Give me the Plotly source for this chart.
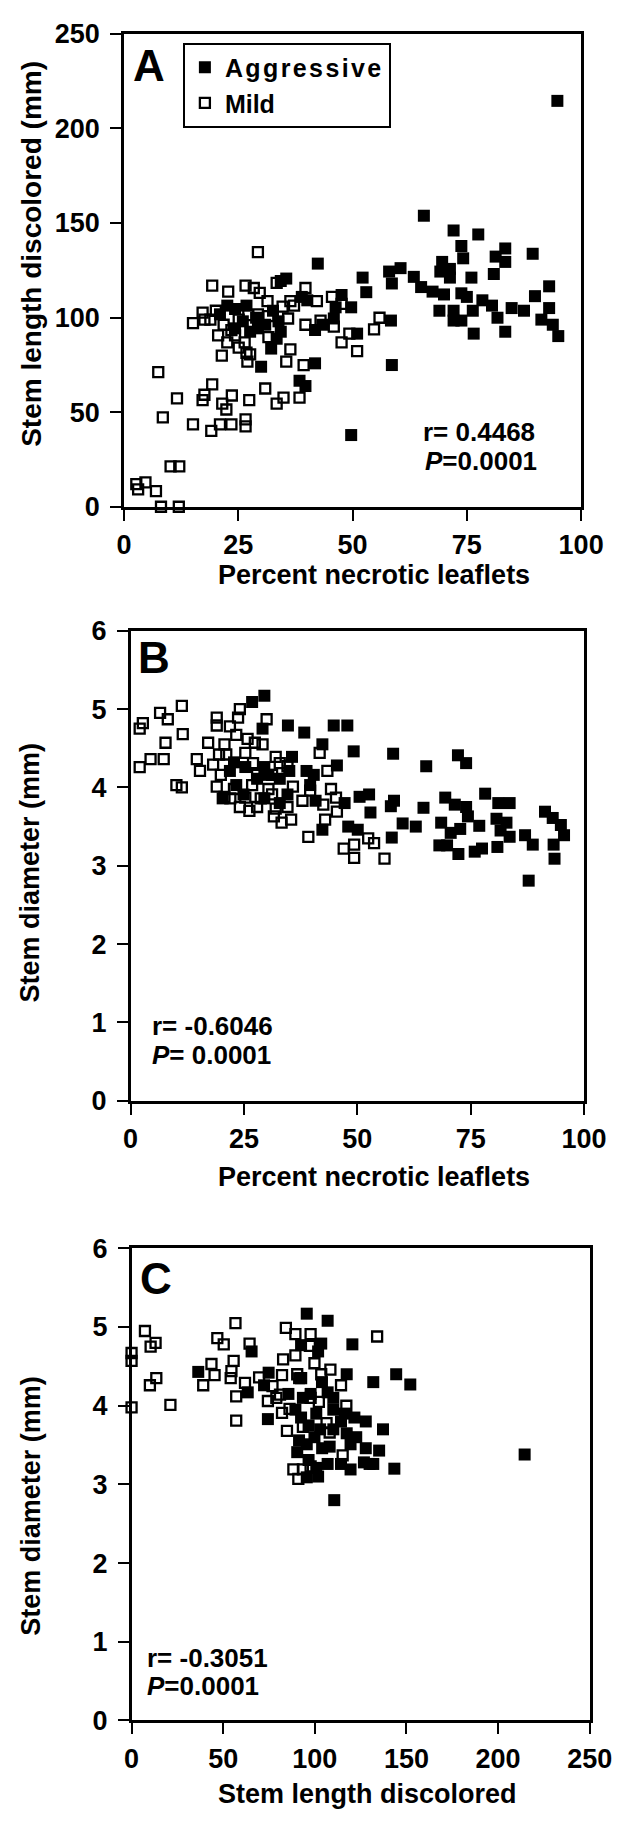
import plotly.graph_objects as go

W, H = 626, 1823

# ---------------- Panel A data: percent necrotic leaflets vs stem length discolored
a_agg_x = [94.8, 65.6, 72.1, 77.5, 89.4, 73.8, 83.4, 81.3, 83.4, 74.2, 69.6, 71.3, 80.9, 60.5, 58, 63.4,
           58.6, 65, 67.5, 70, 73.8, 76, 71.3, 69.2, 75, 78.4, 80.5, 84.8, 87.5, 69, 72.1, 73.8, 72.1, 76.3,
           76.5, 81.7, 83.4, 89.9, 93, 93, 91.3, 93.8, 95, 58.4, 58.6, 52.2, 53, 47.6, 46.3, 49.7, 45.9, 51,
           42.4, 38.9, 40.1, 41.8, 43.4, 41.8, 38.4, 39.7, 49.7, 30, 35.5, 34.3, 32.6, 33.8, 32.2, 34.3, 33.4,
           30.9, 27.6, 26.8, 24.3, 22.6, 21, 28.9, 26, 24.3, 29.3]
a_agg_y = [214.5, 153.8, 146, 143.9, 133.7, 137.8, 136.5, 132.2, 129.4, 131.3, 129.4, 125.7, 123, 126.1,
           124.3, 121.5, 118, 116.1, 113.7, 112.2, 112.8, 121.1, 121.1, 124.3, 110.9, 109.1, 106.3, 105,
           103.6, 103.6, 103.6, 98.4, 98.4, 103.6, 91.5, 99.9, 92.5, 111.3, 116.5, 105, 98.9, 96.2, 90.2,
           98.4, 74.9, 121.1, 113.4, 111.9, 105.4, 105.4, 99.5, 91.5, 128.5, 110.9, 109.1, 93.4, 96.2, 75.8,
           66.6, 63.8, 37.9, 74, 120.6, 119.3, 103.6, 98, 83.6, 92.5, 88.8, 96.2, 92.5, 106.3, 104.5, 106.3,
           101.7, 99.9, 98, 94.3, 94.3]
a_mild_x = [29.3, 19.3, 22.8, 26.6, 28.4, 29.7, 31.4, 33.4, 34.7, 36.4, 39.7, 42.2, 45.5, 47.6, 15.1, 17.2,
            17.6, 20.1, 18.9, 20.6, 21.8, 23.5, 22.6, 24.3, 25.1, 26.4, 26.8, 27.6, 27, 21.4, 25.1, 27.2, 29.3,
            31.6, 31.6, 35.9, 37.2, 36.4, 35.5, 39.3, 39.7, 43, 45.9, 47.6, 49.3, 51, 54.7, 55.9, 7.5, 8.5,
            11.6, 15.1, 17.2, 17.6, 19.3, 19.1, 21.5, 22.4, 23.6, 21, 23.5, 26.6, 26.6, 27.4, 30.9, 33.4, 34.9,
            38.4, 10.2, 12.1, 2.7, 3.1, 4.7, 7, 8.1, 12]
a_mild_y = [134.6, 116.9, 113.7, 116.9, 115.6, 113, 108.7, 118.3, 105.8, 108.7, 115.6, 108.7, 110.9, 107.2,
            97.1, 102.6, 98.9, 103.6, 98.9, 90.6, 96.2, 93.4, 86.9, 90.6, 84.1, 86.9, 81.4, 80.5, 76.7, 79.9,
            98.9, 101.3, 101.7, 100.8, 89.7, 99.5, 106.3, 83.2, 76.7, 74.9, 96.2, 98.4, 95.2, 86.9, 91.5, 82.3,
            93.7, 99.9, 71.2, 47.2, 57.3, 43.5, 56.4, 59.2, 64.7, 40.1, 54.5, 51.4, 58.8, 43.5, 43.5, 46.2,
            42.5, 56.4, 62.5, 54.5, 57.7, 57.7, 21.3, 21.3, 12, 9.2, 12.9, 8.3, 0, 0]

# ---------------- Panel B data: percent necrotic leaflets vs stem diameter
b_agg_x = [29.5, 26.8, 34.7, 44.8, 47.8, 38.3, 29.1, 42.3, 49.2, 57.9, 65.2, 72.2, 74, 45.5, 35.6, 35, 38.8,
           40.4, 22.8, 21.9, 25.3, 29.5, 30.4, 32.9, 27.9, 23.3, 39.6, 20.3, 24.9, 29.5, 32.9, 34.6, 40.8,
           47.2, 50.5, 52.6, 58.1, 57.4, 52.9, 60, 62.9, 64.6, 57.6, 42.3, 48, 50.1, 69.4, 71.5, 74, 68.5,
           74.4, 76.9, 78.2, 81.1, 83.6, 80.7, 82.9, 81.6, 83.6, 68.1, 69.8, 72.3, 75.9, 77.5, 80.9, 87,
           88.7, 91.4, 93.1, 94.9, 95.6, 93.3, 93.5, 87.8, 72.7, 70.6]
b_agg_y = [5.17, 5.09, 4.79, 4.79, 4.79, 4.70, 4.75, 4.55, 4.46, 4.43, 4.27, 4.41, 4.31, 4.28, 4.39, 4.21,
           4.21, 4.16, 4.32, 4.21, 4.26, 4.26, 4.16, 4.11, 4.11, 4.03, 4.03, 3.86, 3.91, 3.86, 3.80, 3.91,
           3.83, 3.80, 3.88, 3.91, 3.83, 3.76, 3.68, 3.54, 3.50, 3.74, 3.36, 3.46, 3.50, 3.46, 3.87, 3.78,
           3.75, 3.55, 3.63, 3.51, 3.92, 3.80, 3.80, 3.60, 3.55, 3.45, 3.37, 3.26, 3.26, 3.15, 3.18, 3.22,
           3.24, 3.39, 3.27, 3.69, 3.61, 3.52, 3.39, 3.27, 3.09, 2.81, 3.47, 3.42]
b_mild_x = [2, 2.7, 2, 4.4, 7.3, 6.5, 8.2, 7.7, 11.3, 11.5, 10.1, 11.3, 14.6, 15.3, 17.1, 18.2, 19, 19, 20.7,
            21.9, 23.7, 24.1, 23.3, 25.8, 27.4, 29.1, 30, 19.5, 21.1, 19, 20.7, 19.9, 22.8, 24.1, 25.3, 27.9,
            26.2, 26.8, 27.9, 25.3, 27, 31.2, 32, 32.9, 31.2, 32, 33.3, 35.4, 34.6, 35.8, 31.6, 39.2, 37.9,
            39.6, 41.7, 42.5, 42.9, 43.4, 44.2, 45.3, 45.5, 47, 49.3, 49.3, 52.4, 53.7, 56, 34.6, 30.4, 28.7,
            22]
b_mild_y = [4.75, 4.82, 4.26, 4.36, 4.36, 4.95, 4.87, 4.57, 5.04, 4.68, 4.03, 4.00, 4.36, 4.21, 4.57, 4.29,
            4.89, 4.79, 4.55, 4.78, 4.89, 5.0, 4.67, 4.62, 4.57, 4.55, 4.87, 4.42, 4.42, 4.01, 3.88, 4.16,
            3.98, 3.75, 3.87, 3.75, 3.70, 4.03, 4.16, 4.44, 4.31, 4.16, 4.39, 4.31, 3.91, 3.73, 3.55, 3.59,
            3.75, 4.01, 3.63, 3.37, 3.83, 3.96, 4.44, 3.78, 3.59, 4.21, 3.98, 3.87, 3.69, 3.22, 3.27, 3.10,
            3.35, 3.29, 3.09, 4.27, 3.98, 3.86, 3.86]

# ---------------- Panel C data: stem length discolored vs stem diameter
c_agg_x = [95.6, 107, 103.5, 120.5, 92.5, 36.4, 65.5, 63.4, 72.3, 74.4, 74.8, 117.4, 131.9, 144.4, 152.1,
           137.2, 214.5, 143.4, 110.6, 119.5, 127.8, 121.6, 135.1, 131.9, 126.8, 114.3, 122.6, 119.5, 110.1,
           114.3, 93.5, 97.7, 107, 110.1, 89.4, 92.5, 96.6, 100.8, 91.4, 95.6, 99.8, 104, 90.4, 96.6, 100.8,
           95.6, 101.8, 107, 108.1, 102.9, 116.4, 129.9, 127.8, 117.4, 110.1, 101.8, 91.4, 85.6, 103.9]
c_agg_y = [5.17, 5.08, 4.79, 4.78, 4.77, 4.43, 4.69, 4.17, 4.26, 3.83, 4.42, 4.40, 4.30, 4.40, 4.27, 3.70,
           3.38, 3.20, 2.80, 3.19, 3.80, 3.85, 3.43, 3.26, 3.28, 3.26, 3.60, 3.51, 3.70, 3.80, 4.10, 4.15,
           4.17, 4.10, 3.95, 3.85, 3.75, 3.90, 3.56, 3.51, 3.60, 3.46, 3.41, 3.31, 3.21, 3.09, 3.10, 3.26,
           3.48, 3.70, 3.90, 3.26, 3.46, 3.65, 3.95, 4.69, 4.35, 4.15, 4.30]
c_mild_x = [0, 0, 0, 7.3, 10.4, 13.1, 10, 13.5, 21.2, 46.8, 50.3, 56.7, 43.6, 39.1, 45.3, 54.1, 55.7, 54.5,
            57.1, 57.1, 61.9, 64.4, 69.6, 74.4, 81, 82.1, 82.7, 84.2, 89.4, 82.1, 84.8, 89.4, 90.4, 97.7,
            97.3, 99.8, 102.2, 103.5, 108.5, 114.3, 117.2, 115.2, 134, 88.3, 91, 93.5, 97.7, 86.2, 93.5, 97.7,
            106.4, 108.1, 92.5, 76.9, 79]
c_mild_y = [4.67, 4.57, 3.98, 4.95, 4.75, 4.80, 4.26, 4.35, 4.01, 4.86, 4.78, 5.05, 4.53, 4.26, 4.39, 4.35,
            4.57, 4.44, 4.12, 3.81, 4.29, 4.79, 4.36, 4.06, 4.14, 4.39, 4.59, 4.99, 4.91, 3.91, 3.68, 4.64,
            4.40, 4.91, 4.76, 4.54, 4.05, 4.40, 4.46, 4.26, 4.0, 3.37, 4.88, 3.19, 3.07, 3.19, 3.23, 3.96,
            3.73, 4.10, 3.78, 3.66, 4.35, 4.25, 4.10]

a_xticks = [0, 25, 50, 75, 100]
a_yticks = [0, 50, 100, 150, 200, 250]
b_yticks = [0, 1, 2, 3, 4, 5, 6]
c_xticks = [0, 50, 100, 150, 200, 250]

FONT = "Liberation Sans, Arial, Helvetica, sans-serif"
TICK_FS = 27
TITLE_FS = 27
STAT_FS = 26


def px_x(p):
    return p / W


def px_y(p):
    return 1 - p / H


fig = go.Figure()

filled = dict(symbol="square", size=12, color="black", line=dict(width=0))
opened = dict(symbol="square-open", size=10, color="black", line=dict(width=2.3, color="black"))

fig.add_trace(go.Scatter(x=a_agg_x, y=a_agg_y, mode="markers", marker=filled,
                         name='<span style="letter-spacing:2.4px">Aggressive</span>',
                         xaxis="x", yaxis="y", cliponaxis=False))
fig.add_trace(go.Scatter(x=a_mild_x, y=a_mild_y, mode="markers", marker=opened, name="Mild",
                         xaxis="x", yaxis="y", cliponaxis=False))
fig.add_trace(go.Scatter(x=b_agg_x, y=b_agg_y, mode="markers", marker=filled, showlegend=False,
                         xaxis="x2", yaxis="y2", cliponaxis=False))
fig.add_trace(go.Scatter(x=b_mild_x, y=b_mild_y, mode="markers", marker=opened, showlegend=False,
                         xaxis="x2", yaxis="y2", cliponaxis=False))
fig.add_trace(go.Scatter(x=c_agg_x, y=c_agg_y, mode="markers", marker=filled, showlegend=False,
                         xaxis="x3", yaxis="y3", cliponaxis=False))
fig.add_trace(go.Scatter(x=c_mild_x, y=c_mild_y, mode="markers", marker=opened, showlegend=False,
                         xaxis="x3", yaxis="y3", cliponaxis=False))

tickfont = dict(family=FONT, size=TICK_FS, color="black", weight="bold")
axis_common = dict(showline=True, linecolor="black", linewidth=2.5, mirror=True, showgrid=False,
                   zeroline=False, ticks="outside", ticklen=11, tickwidth=2, tickcolor="black",
                   tickfont=tickfont, fixedrange=True)

# panel frames in pixels (left, right, top, bottom)
frames = {
    "A": (122, 603, 19, 500),
    "B": (129, 606, 626, 1104),
    "C": (130, 612, 1254, 1734),
}


def dom(f):
    l, r, t, b = f
    return [px_x(l), px_x(r)], [px_y(b), px_y(t)]


dxa, dya = dom(frames["A"])
dxb, dyb = dom(frames["B"])
dxc, dyc = dom(frames["C"])

XSO, YSO = 1, 5
fig.update_layout(
    xaxis=dict(domain=dxa, range=[0, 100], tickvals=a_xticks, anchor="y", ticklabelstandoff=XSO, **axis_common),
    yaxis=dict(domain=dya, range=[0, 250], tickvals=a_yticks, anchor="x", ticklabelstandoff=YSO, **axis_common),
    xaxis2=dict(domain=dxb, range=[0, 100], tickvals=a_xticks, anchor="y2", ticklabelstandoff=XSO, **axis_common),
    yaxis2=dict(domain=dyb, range=[0, 6], tickvals=b_yticks, anchor="x2", ticklabelstandoff=YSO, **axis_common),
    xaxis3=dict(domain=dxc, range=[0, 250], tickvals=c_xticks, anchor="y3", ticklabelstandoff=XSO, **axis_common),
    yaxis3=dict(domain=dyc, range=[0, 6], tickvals=b_yticks, anchor="x3", ticklabelstandoff=YSO, **axis_common),
)

ann = []


def text(x, y, s, size, xanchor="center", angle=0):
    ann.append(dict(x=px_x(x), y=px_y(y), xref="paper", yref="paper", text=s, showarrow=False,
                    xanchor=xanchor, yanchor="middle", textangle=angle, borderpad=0,
                    font=dict(family=FONT, size=size, color="black", weight="bold")))


# axis titles
text(24, 243, "Stem length discolored (mm)", 28, angle=-90)
text(385, 569, "Percent necrotic leaflets", TITLE_FS)
text(23, 872, "Stem diameter (mm)", TITLE_FS, angle=-90)
text(385, 1181, "Percent necrotic leaflets", TITLE_FS)
text(24, 1516, "Stem diameter (mm)", TITLE_FS, angle=-90)
text(378, 1809, "Stem length discolored", TITLE_FS)

# panel letters
text(130, 51, "A", 44, xanchor="left")
text(136, 653, "B", 44, xanchor="left")
text(138, 1285, "C", 44, xanchor="left")

# statistics
text(436, 424, "r= 0.4468", STAT_FS, xanchor="left")
text(438, 453, "<i>P</i>=0.0001", STAT_FS, xanchor="left")
text(150, 1028, "r= -0.6046", STAT_FS, xanchor="left")
text(150, 1057, "<i>P</i>= 0.0001", STAT_FS, xanchor="left")
text(145, 1670, "r= -0.3051", STAT_FS, xanchor="left")
text(145, 1699, "<i>P</i>=0.0001", STAT_FS, xanchor="left")

fig.update_layout(
    width=W, height=H, margin=dict(l=0, r=0, t=0, b=0),
    paper_bgcolor="white", plot_bgcolor="white",
    annotations=ann,
    showlegend=True,
    legend=dict(x=px_x(184), y=px_y(28), xanchor="left", yanchor="top",
                bordercolor="black", borderwidth=2, bgcolor="white",
                font=dict(family=FONT, size=25, color="black", weight="bold"),
                tracegroupgap=0, itemsizing="trace", itemwidth=30),
)

fig.write_html("out.html")
